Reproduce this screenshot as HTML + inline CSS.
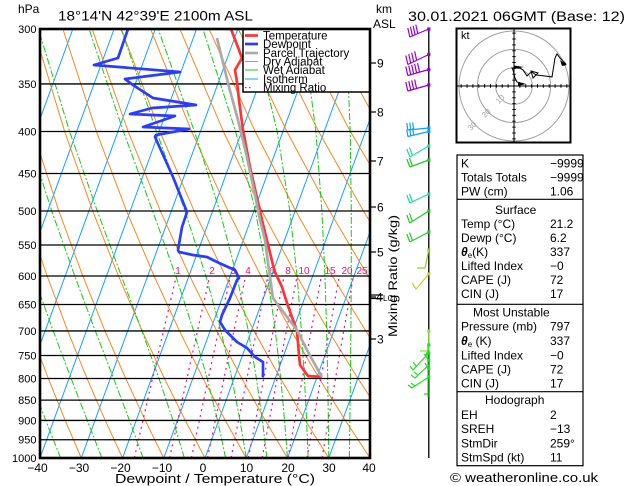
<!DOCTYPE html>
<html><head><meta charset="utf-8">
<style>
html,body{margin:0;padding:0;background:#fff;}
svg{display:block;font-family:"Liberation Sans",Arial,sans-serif;}
</style></head><body>
<svg width="629" height="486" viewBox="0 0 629 486" xmlns="http://www.w3.org/2000/svg">
<defs><clipPath id="pc"><rect x="40" y="29" width="330" height="429"/></clipPath></defs>
<rect x="0" y="0" width="629" height="486" fill="#fff"/>

<g clip-path="url(#pc)" fill="none" stroke-width="1">
 <g stroke="#12a2ff">
  <line x1="-125" y1="458" x2="31.6" y2="29"/>
  <line x1="-83.75" y1="458" x2="72.85" y2="29"/>
  <line x1="-42.5" y1="458" x2="114.1" y2="29"/>
  <line x1="-1.25" y1="458" x2="155.35" y2="29"/>
  <line x1="40" y1="458" x2="196.6" y2="29"/>
  <line x1="81.25" y1="458" x2="237.85" y2="29"/>
  <line x1="122.5" y1="458" x2="279.1" y2="29"/>
  <line x1="163.75" y1="458" x2="320.35" y2="29"/>
  <line x1="205" y1="458" x2="361.6" y2="29"/>
  <line x1="246.25" y1="458" x2="402.85" y2="29"/>
  <line x1="287.5" y1="458" x2="444.1" y2="29"/>
  <line x1="328.75" y1="458" x2="485.35" y2="29"/>
 </g>
 <g stroke="#f68a20">
  <polyline points="81.25,458 65.22,420.46 48.33,378.49 30.46,330.92 11.49,275.99 -8.8,211.03 -30.59,131.53 -54.09,29.03"/>
  <polyline points="122.5,458 105.24,420.46 87.03,378.49 67.72,330.92 47.14,275.99 25.04,211.03 1.16,131.53 -24.84,29.03"/>
  <polyline points="163.75,458 145.27,420.46 125.74,378.49 104.97,330.92 82.79,275.99 58.88,211.03 32.91,131.53 4.4,29.03"/>
  <polyline points="205,458 185.3,420.46 164.44,378.49 142.23,330.92 118.44,275.99 92.72,211.03 64.66,131.53 33.65,29.03"/>
  <polyline points="246.25,458 225.33,420.46 203.14,378.49 179.48,330.92 154.09,275.99 126.56,211.03 96.41,131.53 62.89,29.03"/>
  <polyline points="287.5,458 265.35,420.46 241.84,378.49 216.73,330.92 189.73,275.99 160.39,211.03 128.15,131.53 92.13,29.03"/>
  <polyline points="328.75,458 305.38,420.46 280.54,378.49 253.99,330.92 225.38,275.99 194.23,211.03 159.9,131.53 121.38,29.03"/>
  <polyline points="370,458 345.41,420.46 319.25,378.49 291.24,330.92 261.03,275.99 228.07,211.03 191.65,131.53 150.62,29.03"/>
  <polyline points="411.25,458 385.43,420.46 357.95,378.49 328.5,330.92 296.68,275.99 261.91,211.03 223.4,131.53 179.87,29.03"/>
  <polyline points="452.5,458 425.46,420.46 396.65,378.49 365.75,330.92 332.33,275.99 295.75,211.03 255.15,131.53 209.11,29.03"/>
  <polyline points="493.75,458 465.49,420.46 435.35,378.49 403,330.92 367.98,275.99 329.59,211.03 286.9,131.53 238.35,29.03"/>
  <polyline points="535,458 505.51,420.46 474.05,378.49 440.26,330.92 403.63,275.99 363.43,211.03 318.65,131.53 267.6,29.03"/>
  <polyline points="512.76,378.49 477.51,330.92 439.28,275.99 397.27,211.03 350.4,131.53 296.84,29.03"/>
  <polyline points="551.46,378.49 514.77,330.92 474.93,275.99 431.11,211.03 382.15,131.53 326.09,29.03"/>
  <polyline points="552.02,330.92 510.58,275.99 464.95,211.03 413.9,131.53 355.33,29.03"/>
 </g>
 <g stroke="#16cc16" stroke-dasharray="7,2,2,2">
  <polyline points="60.63,458 45.8,420.46 30.14,378.49 13.33,330.92"/>
  <polyline points="101.88,458 87.27,420.46 71.13,378.49 53.19,330.92 33.59,275.99 12.35,211.03 -10.72,131.53"/>
  <polyline points="143.13,458 129.46,420.46 113.62,378.49 95.29,330.92 74.73,275.99 51.74,211.03 26.4,131.53 -1.51,29.03"/>
  <polyline points="184.38,458 173.01,420.46 158.98,378.49 141.93,330.92 121.36,275.99 97.28,211.03 69.61,131.53 38.41,29.03"/>
  <polyline points="225.63,458 217.6,420.46 207.2,378.49 193.64,330.92 175.83,275.99 152.64,211.03 123.42,131.53 89.06,29.03"/>
  <polyline points="246.25,458 240.01,420.46 231.86,378.49 220.91,330.92 205.85,275.99 184.96,211.03 156.57,131.53 121,29.03"/>
  <polyline points="266.88,458 262.39,420.46 256.43,378.49 248.33,330.92 236.79,275.99 219.78,211.03 194.45,131.53 158.23,29.03"/>
  <polyline points="287.5,458 284.56,420.46 280.74,378.49 275.3,330.92 267.52,275.99 255.38,211.03 235.62,131.53 202.88,29.03"/>
  <polyline points="308.13,458 306.58,420.46 304.46,378.49 301.49,330.92 297.04,275.99 289.86,211.03 277.18,131.53 252.86,29.03"/>
  <polyline points="328.75,458 328.35,420.46 327.72,378.49 326.67,330.92 324.95,275.99 321.87,211.03 315.89,131.53 302.31,29.03"/>
  <polyline points="349.38,458 349.89,420.46 350.4,378.49 350.92,330.92 351.26,275.99 351.28,211.03 350.24,131.53 346.03,29.03"/>
 </g>
 <g stroke="#f0108a" stroke-dasharray="2,4" stroke-width="1.2">
  <polyline points="134.34,458 142.89,420.46 152.53,378.49 163.52,330.92 176.33,275.99"/>
  <polyline points="169.6,458 177.76,420.46 186.95,378.49 197.47,330.92 209.74,275.99"/>
  <polyline points="191.45,458 199.35,420.46 208.28,378.49 218.48,330.92 230.4,275.99"/>
  <polyline points="207.53,458 215.25,420.46 223.96,378.49 233.94,330.92 245.6,275.99"/>
  <polyline points="231.05,458 238.49,420.46 246.89,378.49 256.52,330.92 267.8,275.99"/>
  <polyline points="248.36,458 255.58,420.46 263.76,378.49 273.13,330.92 284.12,275.99"/>
  <polyline points="262.15,458 269.2,420.46 277.18,378.49 286.35,330.92 297.1,275.99"/>
  <polyline points="288.01,458 294.73,420.46 302.36,378.49 311.13,330.92 321.43,275.99"/>
  <polyline points="306.98,458 313.46,420.46 320.82,378.49 329.29,330.92 339.26,275.99"/>
  <polyline points="322.04,458 328.32,420.46 335.47,378.49 343.7,330.92 353.4,275.99"/>
 </g>
</g>

<g stroke="#000" stroke-width="1.3">
 <line x1="40" y1="83.95" x2="370" y2="83.95"/>
 <line x1="40" y1="131.53" x2="370" y2="131.53"/>
 <line x1="40" y1="173.49" x2="370" y2="173.49"/>
 <line x1="40" y1="211.03" x2="370" y2="211.03"/>
 <line x1="40" y1="244.99" x2="370" y2="244.99"/>
 <line x1="40" y1="275.99" x2="370" y2="275.99"/>
 <line x1="40" y1="304.51" x2="370" y2="304.51"/>
 <line x1="40" y1="330.92" x2="370" y2="330.92"/>
 <line x1="40" y1="355.5" x2="370" y2="355.5"/>
 <line x1="40" y1="378.49" x2="370" y2="378.49"/>
 <line x1="40" y1="400.09" x2="370" y2="400.09"/>
 <line x1="40" y1="420.46" x2="370" y2="420.46"/>
 <line x1="40" y1="439.72" x2="370" y2="439.72"/>
</g>

<g fill="#f0108a" font-size="10" text-anchor="middle">
 <text x="178" y="274">1</text>
 <text x="212" y="274">2</text>
 <text x="233" y="274">3</text>
 <text x="248" y="274">4</text>
 <text x="272" y="274">6</text>
 <text x="288" y="274">8</text>
 <text x="304" y="274">10</text>
 <text x="330" y="274">15</text>
 <text x="347" y="274">20</text>
 <text x="362" y="274">25</text>
</g>

<g fill="none" stroke-width="2.7" stroke-linejoin="round">
 <polyline stroke="#ff3333" points="231,29 242,58 235,70 237,82 239,100 243,130 250,167 262,220 273,265 275,272 282,287 287,303 293,320 297,331 299,355 300,365 308,376 322,377"/>
 <polyline stroke="#2a3cff" points="128,29 118,58 94,65 180,72 125,79 133,85 153,98 196,105 152,108 130,114 175,116 143,127 189,129 156,135 155,137 173,177 187,212 182,227 178,250 179,252 193,255 207,257 217,262 228,267 235,270 239,278 237,280 230,298 222,315 220,322 225,330 237,342 247,348 255,357 263,362 263,376 262,377"/>
 <polyline stroke="#aaaaaa" points="217,38 229,87 238,120 246,153 255,195 260,220 265,240 269,270 273,298 287,317 297,330 307,350 318,370 322,377"/>
</g>

<rect x="243" y="29" width="127" height="63" fill="#fff" stroke="#000" stroke-width="1.5"/>
<g stroke-width="2.7">
 <line x1="245" y1="35.5" x2="258" y2="35.5" stroke="#ff3333"/>
 <line x1="245" y1="44" x2="258" y2="44" stroke="#2a3cff"/>
 <line x1="245" y1="53" x2="258" y2="53" stroke="#aaaaaa"/>
</g>
<g stroke-width="1">
 <line x1="245" y1="61.5" x2="258" y2="61.5" stroke="#f68a20"/>
 <line x1="245" y1="70" x2="258" y2="70" stroke="#16cc16"/>
 <line x1="245" y1="79" x2="258" y2="79" stroke="#12a2ff"/>
 <line x1="245" y1="87.5" x2="252" y2="87.5" stroke="#f0108a" stroke-dasharray="1.5,2.5" stroke-width="1.3"/>
</g>
<g font-size="11.5" fill="#000">
 <text x="263" y="39.5">Temperature</text>
 <text x="263" y="48">Dewpoint</text>
 <text x="263" y="57">Parcel Trajectory</text>
 <text x="263" y="65.5">Dry Adiabat</text>
 <text x="263" y="74">Wet Adiabat</text>
 <text x="263" y="83">Isotherm</text>
 <text x="263" y="91.3">Mixing Ratio</text>
</g>

<rect x="40" y="29" width="330" height="429" fill="none" stroke="#000" stroke-width="2.6"/>

<g font-size="11" text-anchor="end" fill="#000">
 <text x="36.5" y="33">300</text>
 <text x="36.5" y="88">350</text>
 <text x="36.5" y="135.5">400</text>
 <text x="36.5" y="177.5">450</text>
 <text x="36.5" y="215">500</text>
 <text x="36.5" y="249">550</text>
 <text x="36.5" y="280">600</text>
 <text x="36.5" y="308.5">650</text>
 <text x="36.5" y="335">700</text>
 <text x="36.5" y="359.5">750</text>
 <text x="36.5" y="382.5">800</text>
 <text x="36.5" y="404">850</text>
 <text x="36.5" y="424.5">900</text>
 <text x="36.5" y="443.7">950</text>
 <text x="36.5" y="462">1000</text>
</g>
<text x="18" y="13" font-size="12">hPa</text>

<g font-size="12" text-anchor="middle" fill="#000">
 <text x="37.5" y="472">−40</text>
 <text x="79" y="472">−30</text>
 <text x="120.5" y="472">−20</text>
 <text x="162" y="472">−10</text>
 <text x="203" y="472">0</text>
 <text x="246.5" y="472">10</text>
 <text x="288" y="472">20</text>
 <text x="329" y="472">30</text>
 <text x="369" y="472">40</text>
</g>
<text x="115" y="483" font-size="13" textLength="200" lengthAdjust="spacingAndGlyphs">Dewpoint / Temperature (°C)</text>

<text x="58" y="20.5" font-size="13.5" textLength="195" lengthAdjust="spacingAndGlyphs">18°14'N 42°39'E 2100m ASL</text>
<text x="408" y="21" font-size="13.5" textLength="217" lengthAdjust="spacingAndGlyphs">30.01.2021 06GMT (Base: 12)</text>
<text x="376" y="13" font-size="12">km</text>
<text x="373" y="28" font-size="12">ASL</text>

<g stroke="#000" stroke-width="1.2">
 <line x1="370" y1="63" x2="376" y2="63"/>
 <line x1="370" y1="112" x2="376" y2="112"/>
 <line x1="370" y1="161" x2="376" y2="161"/>
 <line x1="370" y1="207" x2="376" y2="207"/>
 <line x1="370" y1="252" x2="376" y2="252"/>
 <line x1="370" y1="297" x2="376" y2="297"/>
 <line x1="370" y1="339" x2="376" y2="339"/>
 <line x1="370" y1="295" x2="383" y2="295"/>
 <line x1="370" y1="298.5" x2="383" y2="298.5"/>
</g>
<g font-size="12" fill="#000">
 <text x="377" y="67.5">9</text>
 <text x="377" y="116.5">8</text>
 <text x="377" y="165.5">7</text>
 <text x="377" y="211.5">6</text>
 <text x="377" y="256.5">5</text>
 <text x="376" y="301.5">4</text>
 <text x="377" y="343.5">3</text>
</g>
<text x="383" y="301" font-size="8">LCL</text>
<text transform="translate(397,276) rotate(-90)" font-size="12" text-anchor="middle" textLength="122" lengthAdjust="spacingAndGlyphs">Mixing Ratio (g/kg)</text>

<!-- wind staff & barbs -->
<line x1="428.8" y1="29" x2="428.8" y2="458" stroke="#000" stroke-width="1.3"/>
<g fill="none" stroke-width="1.2">
 <path stroke="#9900cc" d="M428.8,29L409.8,37M409.8,37L407.8,28M412.46,35.88L410.46,26.88M415.12,34.76L413.12,25.76M417.78,33.64L415.78,24.64
 M428.8,54.5L407.8,64.5M407.8,64.5L405.8,55.5M410.74,63.1L408.74,54.1M413.68,61.7L411.68,52.7M416.62,60.3L414.62,51.3
 M428.8,69.5L407.8,75.5M407.8,75.5L405.8,66.5M410.74,74.66L408.74,65.66M413.68,73.82L411.68,64.82M416.62,72.98L414.62,63.98M419.56,72.14L417.56,63.14
 M428.8,85L407.8,91M407.8,91L405.8,82M410.74,90.16L408.74,81.16M413.68,89.32L411.68,80.32M416.62,88.48L414.62,79.48"/>
 <path stroke="#10a0ff" d="M428.8,128L407.8,130M407.8,130L406.8,123M410.74,129.72L409.74,122.72M413.68,129.44L412.68,122.44
 M428.8,131.5L407.8,136.5M407.8,136.5L406.8,129.5M410.74,135.8L409.74,128.8M413.68,135.1L412.68,128.1"/>
 <path stroke="#22d8a8" d="M428.8,146L409.8,157M409.8,157L406.8,149M412.46,155.46L409.46,147.46
 M428.8,194L409.8,203M409.8,203L406.8,195M412.46,201.74L409.46,193.74"/>
 <path stroke="#22cc22" d="M428.8,160L409.8,167M409.8,167L406.8,159M412.46,166.02L409.46,158.02
 M428.8,211L409.8,223M409.8,223L406.8,215M412.46,221.32L409.46,213.32
 M428.8,232L409.8,242M409.8,242L406.8,234M412.46,240.6L409.46,232.6"/>
 <path stroke="#99cc33" d="M428.8,250L425,268L417,268"/>
 <path stroke="#cccc33" d="M428.8,274L416,289L412,283"/>
 <path stroke="#99dd44" d="M428.8,331L428.8,352M428.8,351L420,351"/>
 <path stroke="#22dd22" d="M428,345L428,397M428,394L424,394
 M428.8,353L413,370L410,366M416,366L413,362
 M428.8,365L415,378L411,375M418,375L414,372
 M428.8,377L412,388L408,385M415,386L411,383
 M428.8,350L425,356M428.8,360L424,354M428.8,370L425,363"/>
</g>
<g stroke="none">
 <rect x="427.2" y="27.4" width="3.2" height="3.2" fill="#9900cc"/>
 <rect x="427.2" y="52.9" width="3.2" height="3.2" fill="#9900cc"/>
 <rect x="427.2" y="67.9" width="3.2" height="3.2" fill="#9900cc"/>
 <rect x="427.2" y="83.4" width="3.2" height="3.2" fill="#9900cc"/>
 <rect x="427.2" y="126.4" width="3.2" height="3.2" fill="#10a0ff"/>
 <rect x="427.2" y="129.9" width="3.2" height="3.2" fill="#10a0ff"/>
 <rect x="427.2" y="144.4" width="3.2" height="3.2" fill="#22d8a8"/>
 <rect x="427.2" y="158.4" width="3.2" height="3.2" fill="#22cc22"/>
 <rect x="427.2" y="192.4" width="3.2" height="3.2" fill="#22d8a8"/>
 <rect x="427.2" y="209.4" width="3.2" height="3.2" fill="#22cc22"/>
 <rect x="427.2" y="230.4" width="3.2" height="3.2" fill="#22cc22"/>
 <rect x="427.2" y="248.4" width="3.2" height="3.2" fill="#99cc33"/>
 <rect x="427.2" y="272.4" width="3.2" height="3.2" fill="#cccc33"/>
 <rect x="427.2" y="329.4" width="3.2" height="3.2" fill="#99dd44"/>
 <rect x="427.2" y="343.4" width="3.2" height="3.2" fill="#22dd22"/>
 <rect x="427.2" y="351.4" width="3.2" height="3.2" fill="#22dd22"/>
 <rect x="427.2" y="358.4" width="3.2" height="3.2" fill="#22dd22"/>
 <rect x="427.2" y="366.4" width="3.2" height="3.2" fill="#22dd22"/>
 <rect x="427.2" y="375.4" width="3.2" height="3.2" fill="#22dd22"/>
</g>

<!-- hodograph -->
<rect x="456.5" y="28.5" width="114" height="114" fill="#fff" stroke="#000" stroke-width="2"/>
<g fill="none" stroke="#a0a0a0" stroke-width="1">
 <circle cx="514" cy="86" r="18.3"/>
 <circle cx="514" cy="86" r="36.6"/>
 <circle cx="514" cy="86" r="55"/>
</g>
<g stroke="#000" stroke-width="1" fill="none">
 <line x1="457" y1="86" x2="570" y2="86"/>
 <line x1="514" y1="29" x2="514" y2="142"/>
 <path d="M519.87,84.3V87.7M525.74,84.3V87.7M531.61,84.3V87.7M537.48,84.3V87.7M543.35,84.3V87.7M549.22,84.3V87.7M555.09,84.3V87.7M560.96,84.3V87.7M566.83,84.3V87.7M508.13,84.3V87.7M502.26,84.3V87.7M496.39,84.3V87.7M490.52,84.3V87.7M484.65,84.3V87.7M478.78,84.3V87.7M472.91,84.3V87.7M467.04,84.3V87.7M461.17,84.3V87.7
 M512.3,91.87H515.7M512.3,97.74H515.7M512.3,103.61H515.7M512.3,109.48H515.7M512.3,115.35H515.7M512.3,121.22H515.7M512.3,127.09H515.7M512.3,132.96H515.7M512.3,138.83H515.7M512.3,80.13H515.7M512.3,74.26H515.7M512.3,68.39H515.7M512.3,62.52H515.7M512.3,56.65H515.7M512.3,50.78H515.7M512.3,44.91H515.7M512.3,39.04H515.7M512.3,33.17H515.7"/>
</g>
<g fill="#a0a0a0" font-size="8">
 <text transform="translate(502,101) rotate(-45)" text-anchor="middle">10</text>
 <text transform="translate(488,115) rotate(-45)" text-anchor="middle">20</text>
 <text transform="translate(474,128) rotate(-45)" text-anchor="middle">30</text>
</g>
<polyline fill="none" stroke="#000" stroke-width="1" points="524,84 517,82 515,78 513,70 512,68 520,68 523,70 527,76 530,73 532,72 536,75 545,76 552,77 555,58 557,54 560,58 566,64"/>
<polygon points="514,65.5 524,67 514,69" fill="#000"/>
<polygon points="518,82 526,84 518,86" fill="#000"/>
<polygon points="531,71 538,73 533,78" fill="none" stroke="#000"/>
<polygon points="560,60 567,65 562,66" fill="#000"/>
<text x="461" y="39" font-size="11">kt</text>

<!-- table -->
<rect x="457" y="155" width="126" height="310.7" fill="none" stroke="#000" stroke-width="1.2"/>
<g stroke="#000" stroke-width="1.2">
 <line x1="457" y1="199.3" x2="583" y2="199.3"/>
 <line x1="457" y1="304.3" x2="583" y2="304.3"/>
 <line x1="457" y1="391.7" x2="583" y2="391.7"/>
</g>
<g font-size="12" fill="#000">
 <text x="461" y="167.5">K</text><text x="550" y="167.5">−9999</text>
 <text x="461" y="181.5">Totals Totals</text><text x="550" y="181.5">−9999</text>
 <text x="461" y="195.5">PW (cm)</text><text x="550" y="195.5">1.06</text>
 <text x="495" y="214">Surface</text>
 <text x="461" y="228">Temp (°C)</text><text x="550" y="228">21.2</text>
 <text x="461" y="242">Dewp (°C)</text><text x="550" y="242">6.2</text>
 <text x="461" y="256"><tspan font-weight="bold" font-style="italic">θ</tspan><tspan font-size="8" dy="2">e</tspan><tspan dy="-2">(K)</tspan></text><text x="550" y="256">337</text>
 <text x="461" y="270">Lifted Index</text><text x="550" y="270">−0</text>
 <text x="461" y="284">CAPE (J)</text><text x="550" y="284">72</text>
 <text x="461" y="298">CIN (J)</text><text x="550" y="298">17</text>
 <text x="473" y="316.7">Most Unstable</text>
 <text x="461" y="330.7">Pressure (mb)</text><text x="550" y="330.7">797</text>
 <text x="461" y="345"><tspan font-weight="bold" font-style="italic">θ</tspan><tspan font-size="8" dy="2">e</tspan><tspan dy="-2"> (K)</tspan></text><text x="550" y="345">337</text>
 <text x="461" y="359.3">Lifted Index</text><text x="550" y="359.3">−0</text>
 <text x="461" y="373.5">CAPE (J)</text><text x="550" y="373.5">72</text>
 <text x="461" y="387.5">CIN (J)</text><text x="550" y="387.5">17</text>
 <text x="485" y="404">Hodograph</text>
 <text x="461" y="419">EH</text><text x="550" y="419">2</text>
 <text x="461" y="433">SREH</text><text x="550" y="433">−13</text>
 <text x="461" y="447.5">StmDir</text><text x="550" y="447.5">259°</text>
 <text x="461" y="461.5">StmSpd (kt)</text><text x="550" y="461.5">11</text>
</g>
<text x="450" y="482" font-size="13" textLength="148" lengthAdjust="spacingAndGlyphs">© weatheronline.co.uk</text>
</svg>
</body></html>
